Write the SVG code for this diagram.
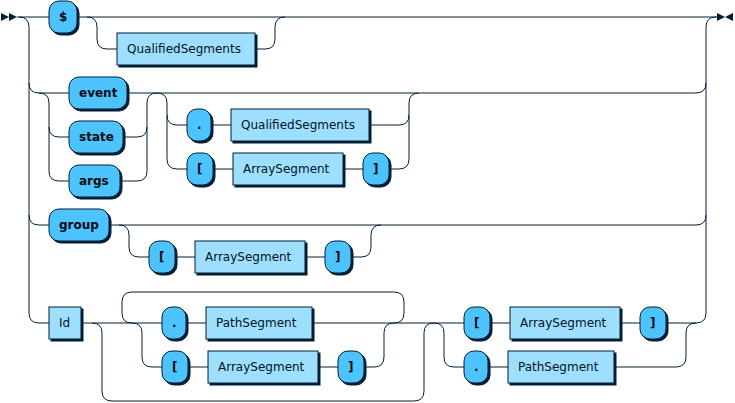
<svg xmlns="http://www.w3.org/2000/svg" width="735" height="403" viewBox="0 0 735 403">
<style>
.line {fill: none; stroke: #001F33; stroke-width: 1;}
.filled {fill: #001F33; stroke: none;}
.shadow {fill: #001F33; stroke: #001F33;}
rect.terminal {fill: #4DC3FF; stroke: #001F33; stroke-width: 1;}
rect.nonterminal {fill: #9EDFFF; stroke: #001F33; stroke-width: 1;}
text.terminal {font-family: "DejaVu Sans", Verdana, sans-serif; font-size: 12px; fill: #000A11; font-weight: bold;}
text.nonterminal {font-family: "DejaVu Sans", Verdana, sans-serif; font-size: 12px; fill: #00141F; font-weight: normal;}
</style>
<g id="connectors">
<polygon class="filled" points="9 17 1 13 1 21"/>
<polygon class="filled" points="17 17 9 13 9 21"/>
<polygon class="filled" points="725 17 733 13 733 21"/>
<polygon class="filled" points="725 17 717 13 717 21"/>
<path class="line" d="M17 17 H49 M77 17 H717"/>
<path class="line" d="M87 17 q10 0 10 10 v12 q0 10 10 10 h10 M255 49 h10 q10 0 10 -10 v-12 q0 -10 10 -10"/>
<path class="line" d="M19 17 q10 0 10 10 V313 q0 10 10 10 h10 M29 83 q0 10 10 10 M29 215 q0 10 10 10 h10"/>
<path class="line" d="M39 93 H69 M39 93 q10 0 10 10 v68 q0 10 10 10 h10 M49 127 q0 10 10 10 h10"/>
<path class="line" d="M127 93 H696 M123 137 h14 q10 0 10 -10 M120 181 h17 q10 0 10 -10 v-68 q0 -10 10 -10"/>
<path class="line" d="M157 93 q10 0 10 10 v12 q0 10 10 10 h10 M167 115 v44 q0 10 10 10 h10"/>
<path class="line" d="M211 125 h20 M369 125 h30 q10 0 10 -10 M213 169 h20 M343 169 h20 M389 169 h10 q10 0 10 -10 v-56 q0 -10 10 -10"/>
<path class="line" d="M109 225 H696 M119 225 q10 0 10 10 v12 q0 10 10 10 h10 M175 257 h20 M305 257 h20 M351 257 h10 q10 0 10 -10 v-12 q0 -10 10 -10"/>
<path class="line" d="M81 323 H162 M92 323 q10 0 10 10 v58 q0 10 10 10 H414 q10 0 10 -10 v-58 q0 -10 10 -10"/>
<path class="line" d="M132 323 q-10 0 -10 -10 v-11 q0 -10 10 -10 H394 q10 0 10 10 v11 q0 10 -10 10"/>
<path class="line" d="M186 323 h20 M312 323 H464 M132 323 q10 0 10 10 v24 q0 10 10 10 h10 M188 367 h20 M318 367 h20 M364 367 h10 q10 0 10 -10 v-24 q0 -10 10 -10"/>
<path class="line" d="M434 323 q10 0 10 10 v24 q0 10 10 10 h10 M490 323 h20 M620 323 h20 M666 323 h30 M488 367 h20 M614 367 h62 q10 0 10 -10 v-24 q0 -10 10 -10"/>
<path class="line" d="M696 323 q10 0 10 -10 V27 q0 -10 10 -10 M696 93 q10 0 10 -10 M696 225 q10 0 10 -10"/>
</g>
<g id="t-dollar"><rect class="shadow" x="51" y="3" width="28" height="32" rx="10"/><rect class="terminal" x="49" y="1" width="28" height="32" rx="10"/><text class="terminal" x="59" y="21">$</text></g>
<g id="n-qs1"><rect class="shadow" x="119" y="35" width="138" height="32"/><rect class="nonterminal" x="117" y="33" width="138" height="32"/><text class="nonterminal" x="127" y="53">QualifiedSegments</text></g>
<g id="t-event"><rect class="shadow" x="71" y="79" width="58" height="32" rx="10"/><rect class="terminal" x="69" y="77" width="58" height="32" rx="10"/><text class="terminal" x="79" y="97">event</text></g>
<g id="t-state"><rect class="shadow" x="71" y="123" width="54" height="32" rx="10"/><rect class="terminal" x="69" y="121" width="54" height="32" rx="10"/><text class="terminal" x="79" y="141">state</text></g>
<g id="t-args"><rect class="shadow" x="71" y="167" width="51" height="32" rx="10"/><rect class="terminal" x="69" y="165" width="51" height="32" rx="10"/><text class="terminal" x="79" y="185">args</text></g>
<g id="t-dot1"><rect class="shadow" x="189" y="111" width="24" height="32" rx="10"/><rect class="terminal" x="187" y="109" width="24" height="32" rx="10"/><text class="terminal" x="197" y="129">.</text></g>
<g id="n-qs2"><rect class="shadow" x="233" y="111" width="138" height="32"/><rect class="nonterminal" x="231" y="109" width="138" height="32"/><text class="nonterminal" x="241" y="129">QualifiedSegments</text></g>
<g id="t-lb1"><rect class="shadow" x="189" y="155" width="26" height="32" rx="10"/><rect class="terminal" x="187" y="153" width="26" height="32" rx="10"/><text class="terminal" x="197" y="173">[</text></g>
<g id="n-as1"><rect class="shadow" x="235" y="155" width="110" height="32"/><rect class="nonterminal" x="233" y="153" width="110" height="32"/><text class="nonterminal" x="243" y="173">ArraySegment</text></g>
<g id="t-rb1"><rect class="shadow" x="365" y="155" width="26" height="32" rx="10"/><rect class="terminal" x="363" y="153" width="26" height="32" rx="10"/><text class="terminal" x="373" y="173">]</text></g>
<g id="t-group"><rect class="shadow" x="51" y="211" width="60" height="32" rx="10"/><rect class="terminal" x="49" y="209" width="60" height="32" rx="10"/><text class="terminal" x="59" y="229">group</text></g>
<g id="t-lb2"><rect class="shadow" x="151" y="243" width="26" height="32" rx="10"/><rect class="terminal" x="149" y="241" width="26" height="32" rx="10"/><text class="terminal" x="159" y="261">[</text></g>
<g id="n-as2"><rect class="shadow" x="197" y="243" width="110" height="32"/><rect class="nonterminal" x="195" y="241" width="110" height="32"/><text class="nonterminal" x="205" y="261">ArraySegment</text></g>
<g id="t-rb2"><rect class="shadow" x="327" y="243" width="26" height="32" rx="10"/><rect class="terminal" x="325" y="241" width="26" height="32" rx="10"/><text class="terminal" x="335" y="261">]</text></g>
<g id="n-id"><rect class="shadow" x="51" y="309" width="32" height="32"/><rect class="nonterminal" x="49" y="307" width="32" height="32"/><text class="nonterminal" x="59" y="327">Id</text></g>
<g id="t-dot2"><rect class="shadow" x="164" y="309" width="24" height="32" rx="10"/><rect class="terminal" x="162" y="307" width="24" height="32" rx="10"/><text class="terminal" x="172" y="327">.</text></g>
<g id="n-ps1"><rect class="shadow" x="208" y="309" width="106" height="32"/><rect class="nonterminal" x="206" y="307" width="106" height="32"/><text class="nonterminal" x="216" y="327">PathSegment</text></g>
<g id="t-lb3"><rect class="shadow" x="164" y="353" width="26" height="32" rx="10"/><rect class="terminal" x="162" y="351" width="26" height="32" rx="10"/><text class="terminal" x="172" y="371">[</text></g>
<g id="n-as3"><rect class="shadow" x="210" y="353" width="110" height="32"/><rect class="nonterminal" x="208" y="351" width="110" height="32"/><text class="nonterminal" x="218" y="371">ArraySegment</text></g>
<g id="t-rb3"><rect class="shadow" x="340" y="353" width="26" height="32" rx="10"/><rect class="terminal" x="338" y="351" width="26" height="32" rx="10"/><text class="terminal" x="348" y="371">]</text></g>
<g id="t-lb4"><rect class="shadow" x="466" y="309" width="26" height="32" rx="10"/><rect class="terminal" x="464" y="307" width="26" height="32" rx="10"/><text class="terminal" x="474" y="327">[</text></g>
<g id="n-as4"><rect class="shadow" x="512" y="309" width="110" height="32"/><rect class="nonterminal" x="510" y="307" width="110" height="32"/><text class="nonterminal" x="520" y="327">ArraySegment</text></g>
<g id="t-rb4"><rect class="shadow" x="642" y="309" width="26" height="32" rx="10"/><rect class="terminal" x="640" y="307" width="26" height="32" rx="10"/><text class="terminal" x="650" y="327">]</text></g>
<g id="t-dot3"><rect class="shadow" x="466" y="353" width="24" height="32" rx="10"/><rect class="terminal" x="464" y="351" width="24" height="32" rx="10"/><text class="terminal" x="474" y="371">.</text></g>
<g id="n-ps2"><rect class="shadow" x="510" y="353" width="106" height="32"/><rect class="nonterminal" x="508" y="351" width="106" height="32"/><text class="nonterminal" x="518" y="371">PathSegment</text></g>
</svg>
